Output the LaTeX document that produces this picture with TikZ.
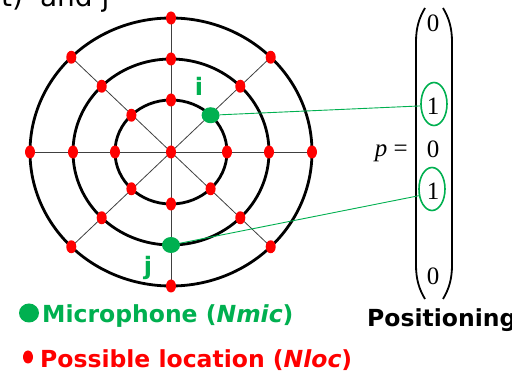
\documentclass[tikz,border=0pt]{standalone}
\usepackage{fontspec}
\setmainfont{DejaVu Sans}
\newfontfamily\mathserif{Liberation Serif}
\usetikzlibrary{shapes.geometric}
\definecolor{micgreen}{RGB}{0,176,80}
\definecolor{locred}{RGB}{255,0,0}
\begin{document}
\begin{tikzpicture}[x=1pt,y=-1pt,
  ring/.style={draw=black,line width=2.8pt},
  spoke/.style={draw=black!75,line width=0.8pt},
  locdot/.style={ellipse,fill=locred,inner sep=0pt,minimum width=10pt,minimum height=13pt},
  micdot/.style={ellipse,fill=micgreen,inner sep=0pt,minimum width=18pt,minimum height=16pt},
  miclabel/.style={text=micgreen,font=\fontsize{24}{24}\selectfont\bfseries,inner sep=0pt},
  entry/.style={font=\fontsize{25}{25}\mathserif,inner sep=0pt},
  hilite/.style={ellipse,draw=micgreen,line width=1.6pt,inner sep=0pt,minimum width=26pt,minimum height=43pt},
  link/.style={draw=micgreen,line width=0.9pt},
  paren/.style={draw=black,line width=1.8pt},
  legend/.style={font=\fontsize{23.5}{24}\selectfont\bfseries,inner sep=0pt,anchor=base west}]
\useasboundingbox (0,0) rectangle (512,374);
\fill[white] (0,0) rectangle (512,374);
% cut-off heading
\node[font=\fontsize{28}{28}\selectfont,inner sep=0pt,anchor=base west] (head) at (-13.6,6.5) {st)\hspace{17pt}and j};
% ring points
\foreach \r/\rx/\ry in {1/56/52,2/98/93,3/141/134}
  \foreach \a in {0,45,...,315}
    \coordinate (p\r-\a) at ({171+\rx*cos(\a)},{152-\ry*sin(\a)});
\coordinate (c) at (171,152);
% spokes
\foreach \a/\b in {0/180,90/270,45/225,135/315}
  \draw[spoke] (p3-\a) -- (p3-\b);
% rings
\draw[ring] (c) ellipse [x radius=56,y radius=52];
\draw[ring] (c) ellipse [x radius=98,y radius=93];
\draw[ring] (c) ellipse [x radius=141,y radius=134];
% location dots
\node[locdot] (l0) at (c) {};
\foreach \r in {1,2,3}
  \foreach \a in {0,45,...,315}{
    \ifnum\r\a=145\relax\else\ifnum\r\a=2270\relax\else
      \node[locdot] (l\r-\a) at (p\r-\a) {};
    \fi\fi}
% microphones
\node[micdot] (mi) at (p1-45) {};
\node[micdot] (mj) at (p2-270) {};
\node[miclabel,anchor=base] (li) at (199,96) {i};
\node[miclabel,anchor=base] (lj) at (148,275) {j};
% vector p
\node[entry] (v1) at (433,23) {0};
\node[entry] (v2) at (433,106) {1};
\node[entry] (v3) at (433,149) {0};
\node[entry] (v4) at (433,191) {1};
\node[entry] (v5) at (433,276) {0};
\node[entry,anchor=base east] (peq) at (408,157) {\itshape p\upshape\ =};
\node[hilite] (e1) at (434,104) {};
\node[hilite] (e2) at (432,189) {};
\draw[paren] (425,8) .. controls (419,18) and (416,28) .. (416,42) -- (416,265) .. controls (416,279) and (419,289) .. (425,299);
\draw[paren] (443,8) .. controls (449,18) and (452,28) .. (452,42) -- (452,265) .. controls (452,279) and (449,289) .. (443,299);
% links
\draw[link] (mi) -- (e1.188);
\draw[link] (mj) -- (e2.207);
% legend
\node[ellipse,fill=micgreen,inner sep=0pt,minimum width=20pt,minimum height=19pt] (gm) at (29,313) {};
\node[legend,text=micgreen] (tm) at (42,323) {Microphone (\textit{Nmic})};
\node[ellipse,fill=locred,inner sep=0pt,minimum width=10pt,minimum height=13pt] (rm) at (28,357) {};
\node[legend,text=locred] (tl) at (40,368) {Possible location (\textit{Nloc})};
\node[legend] (tp) at (367,327) {Positioning};
\end{tikzpicture}
\end{document}
